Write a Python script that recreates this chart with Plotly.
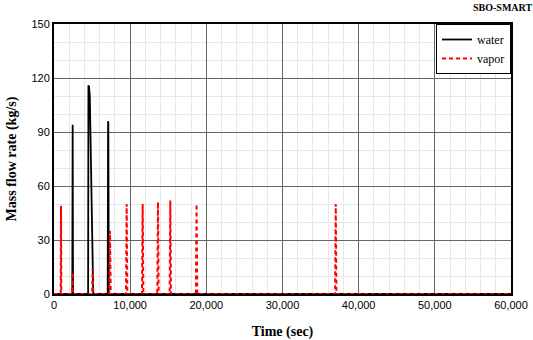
import plotly.graph_objects as go

# Water mass flow (black solid)
water_t = [0, 2400, 2450, 2500, 4480, 4520, 4600, 4700, 4750, 4850, 5150, 7050, 7100, 7130, 7200, 60000]
water_v = [0, 0, 94, 0, 0, 116, 115, 110, 98, 60, 0, 0, 96, 95, 0, 0]

# Vapor mass flow (red dashed)
vapor_t = [0, 880, 920, 960, 2420, 2450, 2480, 5000, 5080, 5150, 7250, 7350, 7450,
           9450, 9540, 9630, 11550, 11640, 11730, 13560, 13650, 13740,
           15180, 15270, 15360, 18630, 18720, 18810, 36900, 36990, 37080, 60000]
vapor_v = [0, 0, 49, 0, 0, 12, 0, 0, 14, 0, 0, 35, 0,
           0, 50, 0, 0, 50, 0, 0, 51, 0,
           0, 52, 0, 0, 50, 0, 0, 50, 0, 0]

x_ticks = [0, 10000, 20000, 30000, 40000, 50000, 60000]
x_labels = ["0", "10,000", "20,000", "30,000", "40,000", "50,000", "60,000"]
y_ticks = [0, 30, 60, 90, 120, 150]

fig = go.Figure()
fig.add_trace(go.Scatter(x=water_t, y=water_v, mode="lines", name="water",
                         legendgroup="w",
                         line=dict(color="black", width=1.8)))
fig.add_trace(go.Scatter(x=vapor_t, y=vapor_v, mode="lines", name="vapor",
                         legendgroup="v",
                         line=dict(color="#ff0000", width=2, dash="4px,3px")))

serif = "Liberation Serif, Times New Roman, serif"
sans = "Liberation Sans, Arial, sans-serif"

fig.update_layout(
    width=533, height=340,
    margin=dict(l=54, r=22, t=24, b=46),
    paper_bgcolor="white", plot_bgcolor="white",
    showlegend=True,
    legend=dict(x=1, y=1, xanchor="right", yanchor="top",
                bgcolor="white", bordercolor="black", borderwidth=1,
                font=dict(family=serif, size=12, color="black"),
                tracegroupgap=0, traceorder="grouped",
                itemwidth=30),
    xaxis=dict(range=[0, 60000], tickvals=x_ticks, ticktext=x_labels,
               showgrid=True, gridcolor="#666666", gridwidth=1,
               minor=dict(dtick=2000, showgrid=True, gridcolor="#e8e8e8", ticks=""),
               showline=True, mirror=True, linecolor="black", linewidth=2,
               ticks="", zeroline=False, automargin=False,
               tickfont=dict(family=sans, size=11, color="black"),
               title=dict(text="<b>Time (sec)</b>",
                          font=dict(family=serif, size=14, color="black"),
                          standoff=16)),
    yaxis=dict(range=[0, 150], tickvals=y_ticks,
               showgrid=True, gridcolor="#666666", gridwidth=1,
               minor=dict(dtick=10, showgrid=True, gridcolor="#e8e8e8", ticks=""),
               showline=True, mirror=True, linecolor="black", linewidth=2,
               ticks="", zeroline=False, automargin=False,
               tickfont=dict(family=sans, size=11, color="black"),
               title=dict(text="<b>Mass flow rate (kg/s)</b>",
                          font=dict(family=serif, size=14, color="black"),
                          standoff=12)),
    annotations=[dict(text="<b>SBO-SMART</b>", xref="paper", yref="paper",
                      x=1.05, y=1.0, yshift=17, xanchor="right", yanchor="middle",
                      showarrow=False,
                      font=dict(family=serif, size=10, color="black"))],
)

fig.write_html("out.html", config={"displayModeBar": False},
               post_script="document.body.style.margin='0';")
